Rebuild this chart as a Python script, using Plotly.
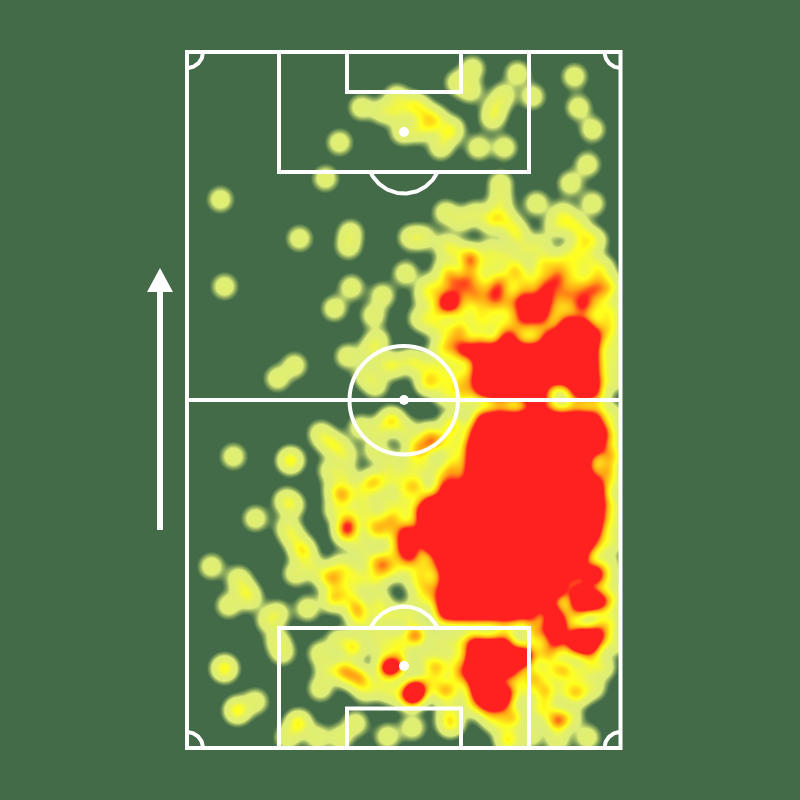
import numpy as np
import plotly.graph_objects as go

# Touch locations, in pitch units: (x, y, touches)
attacking_third = [
 (220,199,1),(299,238,1),(224,286,1),(350,232,1),(348,246,1),(339,142,1),(325,178,1),
 (361,107,1),(382,111,1),(396,96,1),(396,112,1),(410,105,1),(418,106,1),(436,118,1),(425,115,1),
 (402,132,1),(418,130,1),(430,125,1),(447,134,1),(440,147,1),(452,128,1),(478,147,1),(504,147,1),
 (472,68,1),(457,82,1),(470,90,1),(517,73,1),(532,96,1),(503,95,1),(495,107,1),(492,118,1),
 (574,76,1),(578,107,1),(592,129,1),(587,164,1),(570,183,1),(536,203,1),(592,203,1),(500,183,1),
 (445,212,1),(423,237,1),(410,237,1),(500,200,1),(495,215,1),(505,218,1),(512,228,1),(518,235,1),
 (475,213,1),(460,220,1),(490,222,1),(445,245,1),(455,250,1),(470,255,1),(490,250,1),(505,255,1),
 (525,250,1),(540,245,1),(555,225,1),(570,222,1),(578,228,1),(585,238,1),(562,213,1),(595,240,1),
 (580,248,1),(570,255,1),(590,260,1),(603,268,1),(612,285,1),(558,262,1),(545,262,1),
]
upper_middle = [
 (351,287,1),(334,308,1),(347,356,1),(294,365,1),(277,378,1),(382,295,1),(405,273,1),(373,315,1),
 (377,340,1),(370,350,1),(430,285,1),(445,267,1),(470,260,2),(490,265,1),(515,270,2),(540,268,1),
 (560,272,1),(575,268,1),(595,275,1),(450,278,2),(465,282,2),(480,282,1),(500,282,2),(530,282,1),
 (545,285,2),(557,280,2),(575,282,1),(590,290,2),(605,292,1),(425,295,1),(440,292,1),(460,298,1),
 (475,295,2),(495,292,2),(508,300,1),(565,295,2),(582,305,3),(598,305,1),(448,303,4),(435,310,1),
 (462,312,1),(480,310,1),(497,305,1),(515,305,1),(525,300,3),(541,300,3),(525,316,3),(541,316,3),
 (552,308,1),(565,312,1),(605,318,1),(420,318,1),(433,323,1),(445,330,1),(460,330,2),(480,335,1),
 (495,322,1),(520,330,1),(535,330,1),(448,345,1),(440,350,1),(452,365,1),(445,380,1),(458,385,1),
 (365,375,1),(375,385,1),(385,365,1),(395,365,1),(410,360,1),(420,365,1),(428,382,2),(435,368,1),
 (445,395,1),(462,400,1),(500,402,1),(530,402,2),(545,402,2),(575,402,1),(598,402,1),
 (470,272,1),(520,285,1),(455,290,1),(490,300,1),(550,295,1),(578,292,1),(600,285,1),(480,320,1),
 (510,320,1),(560,325,1),(455,345,1),(465,375,1),(465,390,1),(602,332,1),
]
lower_middle = [
 (391,420,2),(378,430,1),(360,427,1),(320,433,1),(328,442,1),(337,446,1),(345,455,1),(405,430,1),
 (415,447,1),(427,433,1),(425,445,1),(435,440,2),(418,450,1),(452,424,2),(450,440,1),(452,455,1),
 (425,465,1),(452,470,2),(440,475,1),(410,465,1),(390,462,1),(375,450,1),(290,460,2),(233,456,1),
 (285,500,1),(292,505,1),(255,518,1),(330,470,1),(345,475,1),(335,490,1),(343,495,2),(360,490,1),
 (372,482,2),(385,478,1),(400,480,1),(415,485,2),(405,495,1),(385,500,1),(365,505,1),(335,510,1),
 (350,515,1),(347,527,3),(345,535,1),(377,530,2),(390,520,2),(407,532,3),(407,545,3),(407,558,2),
 (420,525,1),(433,530,2),(432,545,1),(395,550,1),(383,562,2),(370,560,1),(360,545,1),(375,580,1),
 (287,527,1),(293,537,1),(302,550,2),(310,565,1),(295,573,1),(323,575,1),(333,578,2),(340,565,1),
 (350,572,1),(333,598,2),(345,590,1),(357,610,2),(360,622,1),(380,570,1),(420,570,1),(425,585,1),
 (420,600,1),(410,615,1),(395,615,1),(380,612,1),(378,600,1),
 (211,566,1),(238,578,1),(244,590,1),(228,605,1),(250,598,1),(307,608,1),(277,613,1),(268,620,1),
 (395,535,1),(418,540,1),(420,510,2),(400,510,1),(415,555,1),(395,570,1),(430,565,1),(430,590,1),
 (415,580,1),(360,580,1),(352,600,1),(370,520,1),
]
defensive_third = [
 (277,640,1),(282,652,1),(224,668,2),(255,701,1),(237,710,2),(320,688,1),(298,723,2),(317,737,1),
 (287,737,1),(355,723,1),(340,737,1),(387,736,1),(412,727,1),(320,653,1),(327,670,1),(353,647,2),
 (343,670,2),(350,675,1),(360,678,2),(338,640,1),(365,690,1),(380,647,1),(388,667,4),(397,665,2),
 (415,635,3),(395,640,1),(413,692,4),(418,688,2),(410,697,2),(393,693,1),(437,667,2),(443,690,2),
 (425,660,1),(440,643,1),(457,643,1),(460,673,2),(453,690,1),(450,723,2),(448,710,1),(380,687,1),
 (377,630,1),(470,705,1),(513,673,2),(525,690,1),(547,653,2),(533,677,2),(563,670,2),(577,693,2),
 (557,720,3),(538,710,1),(508,740,2),(513,717,2),(557,740,1),(587,737,1),(603,667,1),(593,687,1),
 (570,717,1),(613,643,1),(613,597,1),(500,723,1),(490,717,1),(530,735,1),(505,632,1),(535,632,2),
 (550,628,2),(530,650,1),(578,675,1),(545,690,2),(575,630,1),(602,625,1),(605,605,1),(575,610,2),
 (560,590,2),(578,590,2),(590,580,1),(607,565,1),(600,545,1),
 (550,670,1),(565,690,1),(590,665,1),(545,705,1),(400,650,1),(455,660,1),(430,680,1),(470,640,1),
]
right_edge = [
 (613,310,1),(612,328,1),(614,346,1),(613,362,1),(612,380,1),(613,416,1),(614,436,1),(611,455,2),
 (606,470,2),(592,478,1),(612,482,1),(614,505,1),(613,522,1),(613,540,1),(606,580,1),(612,622,1),
]
# Rows of the densest area: {y: [x, ...]}, three touches each
busy_upper = {
 325: [570,584],
 337: [507,550,564,578,592],
 350: [465,479,493,507,521,535,549,563,577,591],
 364: [480,494,508,522,536,550,564,578,592],
 378: [480,494,508,522,536,550,564,578,592],
 390: [482,496,510,524,538,578,592],
}
busy_lower = {
 418: [482,496,510,524,538,552,566,580,594],
 432: [476,490,504,518,532,546,560,574,588,600],
 446: [472,486,500,514,528,542,556,570,584,597],
 460: [472,486,500,514,528,542,556,570,584],
 474: [472,486,500,514,528,542,556,570,582],
 488: [446,460,474,488,502,516,530,544,558,572,586,596],
 502: [430,444,458,472,486,500,514,528,542,556,570,584,598],
 516: [428,442,456,470,484,498,512,526,540,554,568,582,597],
 530: [430,444,458,472,486,500,514,528,542,556,570,584,594],
 544: [432,446,460,474,488,502,516,530,544,558,572,586],
 558: [442,456,470,484,498,512,526,540,554,568,580],
 572: [446,460,474,488,502,516,530,544,558,572],
 586: [446,460,474,488,502,516,530,544,553],
 600: [442,456,470,484,498,512,526,542],
 614: [444,458,472,486,500,514,530],
}
busy_wing = [
 (587,600,4),(578,598,2),(557,623,4),(552,610,3),(556,640,3),(585,640,5),(597,635,3),(575,640,3),
 (593,573,4),(597,600,3),(590,650,2),(572,650,1),
]
busy_box = {
 645: [476,490,504],
 657: [474,488,502,516,524],
 668: [474,488,502],
 680: [476,490],
 692: [478,492,506],
 703: [486,500],
}

pts = attacking_third + upper_middle + lower_middle + defensive_third + right_edge + busy_wing
for rows in (busy_upper, busy_lower, busy_box):
    for yy, xs in rows.items():
        pts += [(xx, yy, 3) for xx in xs]
pts = np.array(pts, dtype=float)

pitch_left, pitch_right, pitch_top, pitch_bottom = 187, 620.5, 52, 748
gx = np.arange(pitch_left, pitch_right + 1, 2.0)
gy = np.arange(pitch_top, pitch_bottom + 1, 2.0)
X, Y = np.meshgrid(gx, gy)
Z = np.zeros_like(X)
bw = 8.0
for px, py, n in pts:
    Z += n * np.exp(-((X - px) ** 2 + (Y - py) ** 2) / (2 * bw ** 2))
Z = np.round(Z, 3)

zmax = 6.0
stops = [
 (0.00, "rgba(223,238,120,0)"), (0.17, "rgba(223,238,120,0)"), (0.58, "rgba(221,237,120,1)"),
 (1.25, "rgba(228,240,105,1)"), (2.0, "rgba(255,255,30,1)"), (3.05, "rgba(255,160,20,1)"),
 (3.8, "rgba(255,32,32,1)"), (6.0, "rgba(255,32,32,1)"),
]
colorscale = [[v / zmax, c] for v, c in stops]

fig = go.Figure()
fig.add_trace(go.Heatmap(x=gx, y=gy, z=Z, zmin=0, zmax=zmax, zsmooth="best",
                         colorscale=colorscale, showscale=False, hoverinfo="skip"))

WHITE = "#ffffff"
LW = 4
def rect(x0, y0, x1, y1):
    return dict(type="rect", x0=x0, y0=y0, x1=x1, y1=y1, line=dict(color=WHITE, width=LW))
def line(x0, y0, x1, y1):
    return dict(type="line", x0=x0, y0=y0, x1=x1, y1=y1, line=dict(color=WHITE, width=LW))
def spot(cx, cy, r):
    return dict(type="circle", x0=cx-r, x1=cx+r, y0=cy-r, y1=cy+r, fillcolor=WHITE, line=dict(width=0))

shapes = [
 rect(pitch_left, pitch_top, pitch_right, pitch_bottom),
 rect(279, 52, 529, 172), rect(347, 52, 461, 92),
 rect(279, 628, 529, 748), rect(347, 708.5, 461, 748),
 line(pitch_left, 400, pitch_right, 400),
 dict(type="circle", x0=349.5, x1=458, y0=346, y1=454.5, line=dict(color=WHITE, width=LW)),
 spot(404, 132, 5), spot(404, 400, 5), spot(404, 666, 5),
 dict(type="rect", x0=157, x1=163, y0=290, y1=530, fillcolor=WHITE, line=dict(width=0)),
 dict(type="path", path="M 147 292 L 160 268 L 173 292 Z", fillcolor=WHITE, line=dict(width=0)),
]
def arc(cx, cy, r, a0, a1):
    t = np.radians(np.linspace(a0, a1, 60))
    return cx + r * np.cos(t), cy + r * np.sin(t)

arcs = [
 arc(404, 156.5, 37, 25, 155), arc(404, 643.5, 37, 205, 335),
 arc(187, 52, 16, 0, 90), arc(620.5, 52, 16, 90, 180),
 arc(187, 748, 16, 270, 360), arc(620.5, 748, 16, 180, 270),
]
for ax, ay in arcs:
    fig.add_trace(go.Scatter(x=ax, y=ay, mode="lines", line=dict(color=WHITE, width=LW),
                             hoverinfo="skip", showlegend=False))

fig.update_layout(
    width=800, height=800, margin=dict(l=0, r=0, t=0, b=0),
    paper_bgcolor="#436b47", plot_bgcolor="#436b47", shapes=shapes, showlegend=False,
    xaxis=dict(range=[0, 800], visible=False, fixedrange=True),
    yaxis=dict(range=[800, 0], visible=False, fixedrange=True),
)
fig.write_html("out.html", config={"displayModeBar": False},
               post_script="document.body.style.margin='0';document.body.style.background='#436b47';")
